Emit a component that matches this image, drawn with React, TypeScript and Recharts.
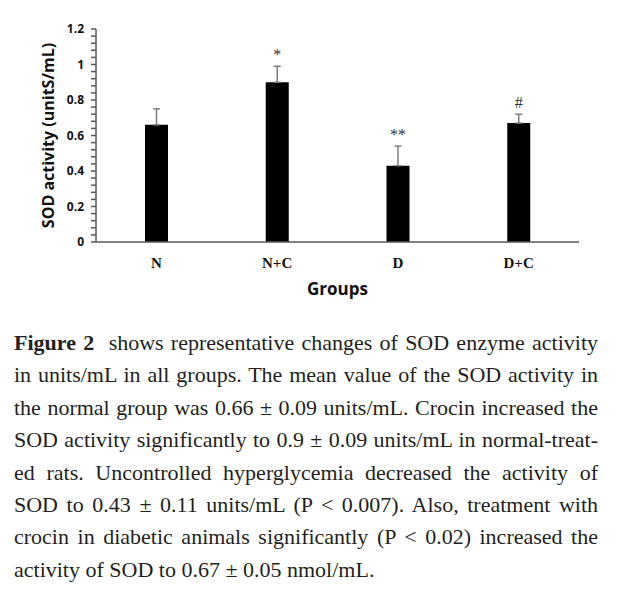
import { BarChart, Bar, XAxis, YAxis, ErrorBar, LabelList } from "recharts";

const groups = ["N", "N+C", "D", "D+C"];
const means = [0.66, 0.9, 0.43, 0.67];
const sems = [0.09, 0.09, 0.11, 0.05];
const marks = ["", "*", "**", "#"];

// every 0.04 gets a tick mark, only multiples of 0.2 get a label
const yTicks = [
  0, 0.04, 0.08, 0.12, 0.16, 0.2, 0.24, 0.28, 0.32, 0.36, 0.4, 0.44, 0.48, 0.52, 0.56, 0.6,
  0.64, 0.68, 0.72, 0.76, 0.8, 0.84, 0.88, 0.92, 0.96, 1, 1.04, 1.08, 1.12, 1.16, 1.2,
];

const captionLines = [
  "shows representative changes of SOD enzyme activity",
  "in units/mL in all groups. The mean value of the SOD activity in",
  "the normal group was 0.66 ± 0.09 units/mL. Crocin increased the",
  "SOD activity significantly to 0.9 ± 0.09 units/mL in normal-treat-",
  "ed rats. Uncontrolled hyperglycemia decreased the activity of",
  "SOD to 0.43 ± 0.11 units/mL (P < 0.007). Also, treatment with",
  "crocin in diabetic animals significantly (P < 0.02) increased the",
  "activity of SOD to 0.67 ± 0.05 nmol/mL.",
];

const data = groups.map((g, i) => ({
  group: g,
  mean: means[i],
  err: [0, sems[i]],
  mark: marks[i],
}));

const sans = "'Open Sans', sans-serif";
const serif = "'Liberation Serif', serif";

const fmtY = (v: number) => {
  const k = Math.round(v * 5);
  if (Math.abs(v * 5 - k) > 1e-6) return "";
  return String(Math.round(v * 10) / 10);
};

function MarkLabel(props: any) {
  const { x, y, width, height, index } = props;
  const mark = marks[index];
  if (!mark) return null;
  const pxPerUnit = height / means[index];
  const errTop = y - sems[index] * pxPerUnit;
  return (
    <text
      x={x + width / 2}
      y={errTop - 6}
      textAnchor="middle"
      fontFamily={serif}
      fontSize={16}
      fill="#333"
    >
      {mark}
    </text>
  );
}

export default function App() {
  return (
    <div style={{ position: "absolute", left: 0, top: 0, width: 623, height: 593, background: "#fff" }}>
      <BarChart
        width={623}
        height={300}
        data={data}
        margin={{ top: 29, right: 44, left: 36, bottom: 2 }}
        barCategoryGap={0}
      >
        <XAxis
          dataKey="group"
          height={56}
          tickLine={false}
          tickSize={13}
          stroke="#595959"
          strokeWidth={1.5}
          tick={{ fontFamily: serif, fontWeight: 700, fontSize: 15, fill: "#111" }}
          label={{
            value: "Groups",
            position: "insideBottom",
            offset: 3,
            style: { fontFamily: sans, fontWeight: 700, fontSize: 17, fill: "#111" },
          }}
        />
        <YAxis
          width={60}
          domain={[0, 1.2]}
          ticks={yTicks}
          interval={0}
          tickFormatter={fmtY}
          tickSize={5}
          tickMargin={7}
          stroke="#595959"
          strokeWidth={1.5}
          tick={{ fontFamily: sans, fontWeight: 700, fontSize: 12, fill: "#111" }}
          label={{
            value: "SOD activity (unitS/mL)",
            angle: -90,
            position: "insideLeft",
            offset: 12,
            style: { textAnchor: "middle", fontFamily: sans, fontWeight: 700, fontSize: 16, fill: "#111" },
          }}
        />
        <Bar dataKey="mean" fill="#000" barSize={23} isAnimationActive={false}>
          <ErrorBar dataKey="err" direction="y" width={3.5} stroke="#7f7f7f" strokeWidth={1.5} />
          <LabelList dataKey="mark" content={MarkLabel} />
        </Bar>
      </BarChart>
      <div
        style={{
          position: "absolute",
          left: 14,
          top: 327,
          width: 584,
          fontFamily: serif,
          fontSize: 22,
          lineHeight: "32.4px",
          color: "#231f20",
        }}
      >
        {captionLines.map((line, i) => (
          <div
            key={i}
            style={{
              whiteSpace: "nowrap",
              textAlign: "justify",
              textAlignLast: i === captionLines.length - 1 ? "left" : "justify",
            }}
          >
            {i === 0 ? <b>Figure 2&nbsp; </b> : null}
            {line}
          </div>
        ))}
      </div>
    </div>
  );
}
